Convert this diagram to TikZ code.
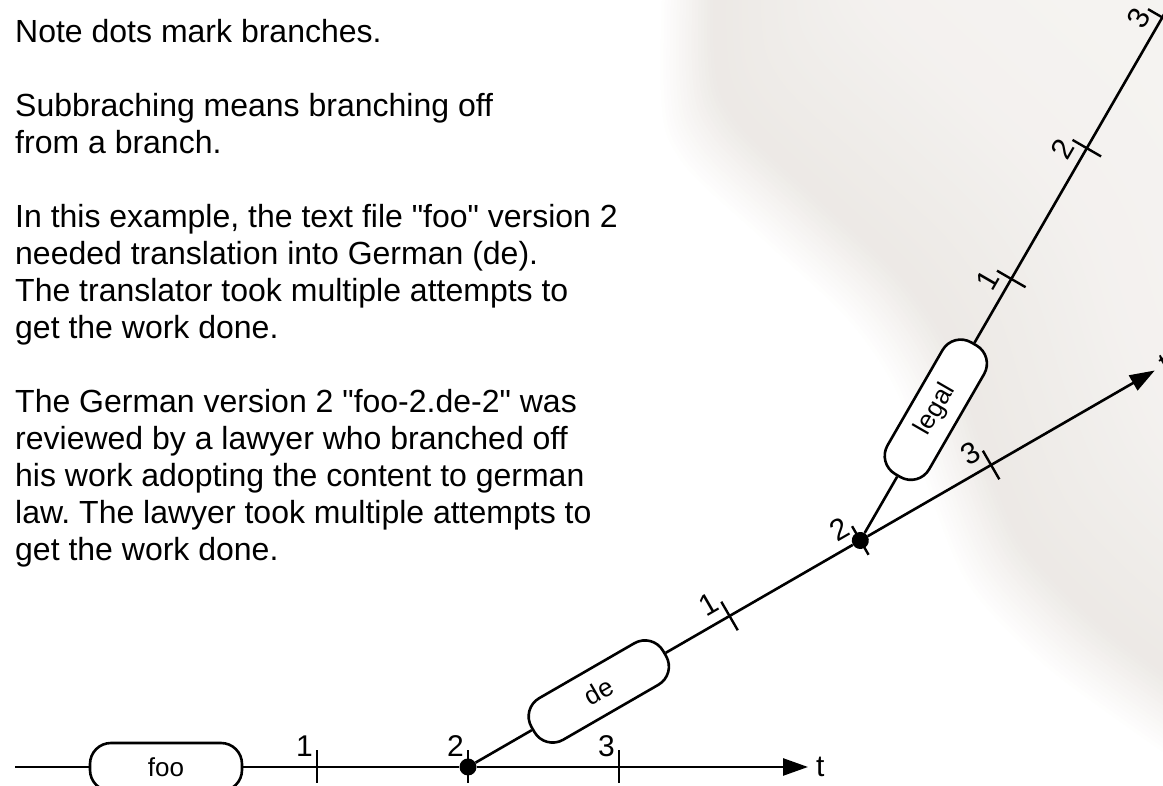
\documentclass[tikz,border=0pt]{standalone}
\usepackage{fontspec}
\newfontfamily\hv{Liberation Sans}
\usetikzlibrary{arrows.meta}
\definecolor{warm}{RGB}{190,178,165}
\frenchspacing
\begin{document}
\begin{tikzpicture}[x=1pt,y=1pt,
  line/.style={line width=2.6pt, draw=black},
  tip/.style={-{Triangle[length=25pt,width=17pt]}},
  stepbox/.style={draw, line width=2.6pt, fill=white, rounded corners=21pt,
    minimum width=152pt, minimum height=48pt, inner sep=0pt,
    font=\hv\fontsize{26}{30}\selectfont},
  tickmark/.style={minimum height=33pt, minimum width=0pt, inner sep=0pt, outer sep=0pt},
  tickline/.style={line width=2.4pt},
  dotnode/.style={circle, fill=black, minimum size=17pt, inner sep=0pt},
  num/.style={font=\hv\fontsize{30}{30}\selectfont, inner sep=0pt, anchor=base east},
  tlabel/.style={font=\hv\fontsize{30}{30}\selectfont, inner sep=0pt, anchor=west},
  bodytext/.style={font=\hv\fontsize{32}{37}\selectfont\frenchspacing, align=left, inner sep=0pt, anchor=base west}]

\useasboundingbox (0,0) rectangle (1163,786);

% background shadow
\begin{scope}
  \clip (0,0) rectangle (1163,786);
  \foreach \d in {-44,-40,...,460} {
    \pgfmathsetmacro\p{28*min(1,max(0,(\d+44)/70)) - 10*min(1,max(0,(\d-40)/170)) - 4*min(1,max(0,(\d-210)/250))}
    \fill[warm!\p!white, shift={({0.78*\d},{0.62*\d})}]
      plot[smooth] coordinates {(700,986) (692,726) (712,651) (795,571) (880,491) (930,416)
        (962,316) (1000,226) (1070,151) (1163,81) (1400,-84)}
      -- (2600,-84) -- (2600,2600) -- (700,2600) -- cycle;
  }
\end{scope}

% text
\node[bodytext] (notes) at (15,225) {Note dots mark branches.\\[37pt]
Subbraching means branching off\\
from a branch.\\[37pt]
In this example, the text file "foo" version 2\\
needed translation into German (de).\\
The translator took multiple attempts to\\
get the work done.\\[37pt]
The German version 2 "foo-2.de-2" was\\
reviewed by a lawyer who branched off\\
his work adopting the content to german\\
law. The lawyer took multiple attempts to\\
get the work done.};

% main line
\begin{scope}[shift={(468,19)}]
  \coordinate (mstart) at (-453,0);
  \node[stepbox] (foo) at (-302,0) {foo};
  \node[tickmark] (m1) at (-151,0) {};
  \node[dotnode] (dot1) at (0,0) {};
  \node[tickmark] (m2) at (0,0) {};
  \node[tickmark] (m3) at (151,0) {};
  \coordinate (mend) at (340,0);
  \node[num] (m1l) at (-155,10) {1};
  \node[num] (m2l) at (-4,10) {2};
  \node[num] (m3l) at (147,10) {3};
  \node[tlabel] (mt) at (348,0) {t};
\end{scope}

% de branch
\begin{scope}[shift={(468,19)}, rotate=30, transform shape]
  \node[stepbox] (de) at (151,0) {de};
  \node[tickmark] (d1) at (302,0) {};
  \node[dotnode] (dot2) at (453,0) {};
  \node[tickmark] (d2) at (453,0) {};
  \node[tickmark] (d3) at (604,0) {};
  \coordinate (dend) at (793,0);
  \node[num] (d1l) at (298,10) {1};
  \node[num] (d2l) at (449,10) {2};
  \node[num] (d3l) at (600,10) {3};
  \node[tlabel] (dt) at (801,0) {t};
\end{scope}

% legal branch
\begin{scope}[shift={(dot2)}, rotate=60, transform shape]
  \node[stepbox] (legal) at (151,0) {legal};
  \node[tickmark] (l1) at (302,0) {};
  \node[tickmark] (l2) at (453,0) {};
  \node[tickmark] (l3) at (604,0) {};
  \coordinate (lend) at (793,0);
  \node[num] (l1l) at (298,10) {1};
  \node[num] (l2l) at (449,10) {2};
  \node[num] (l3l) at (600,10) {3};
\end{scope}

% connectors
\draw[line] (mstart) -- (foo);
\draw[line] (foo) -- (dot1);
\draw[line, tip] (dot1) -- (mend);
\draw[line] (dot1) -- (de);
\draw[line] (de) -- (dot2);
\draw[line, tip] (dot2) -- (dend);
\draw[line] (dot2) -- (legal);
\draw[line, tip] (legal) -- (lend);

% ticks
\foreach \t in {m1,m2,m3,d1,d2,d3,l1,l2,l3} {
  \draw[tickline] (\t.north) -- (\t.south);
}
\end{tikzpicture}
\end{document}
